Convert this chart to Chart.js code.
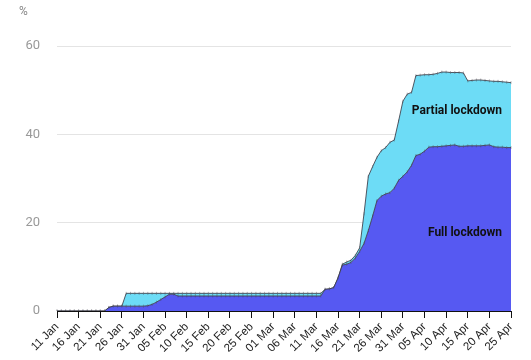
<!DOCTYPE html>
<html>
<head>
<meta charset="utf-8">
<script src="https://cdn.jsdelivr.net/npm/chart.js@4/dist/chart.umd.min.js"></script>
<style>
html,body{margin:0;padding:0;background:#fff;}
#wrap{width:531px;height:360px;position:relative;}
</style>
</head>
<body>
<div id="wrap"><canvas id="c"></canvas></div>
<script>
// Categories: daily, 11 Jan – 25 Apr 2020
const categories = [
 "11 Jan","12 Jan","13 Jan","14 Jan","15 Jan","16 Jan","17 Jan","18 Jan","19 Jan","20 Jan",
 "21 Jan","22 Jan","23 Jan","24 Jan","25 Jan","26 Jan","27 Jan","28 Jan","29 Jan","30 Jan",
 "31 Jan","01 Feb","02 Feb","03 Feb","04 Feb","05 Feb","06 Feb","07 Feb","08 Feb","09 Feb",
 "10 Feb","11 Feb","12 Feb","13 Feb","14 Feb","15 Feb","16 Feb","17 Feb","18 Feb","19 Feb",
 "20 Feb","21 Feb","22 Feb","23 Feb","24 Feb","25 Feb","26 Feb","27 Feb","28 Feb","29 Feb",
 "01 Mar","02 Mar","03 Mar","04 Mar","05 Mar","06 Mar","07 Mar","08 Mar","09 Mar","10 Mar",
 "11 Mar","12 Mar","13 Mar","14 Mar","15 Mar","16 Mar","17 Mar","18 Mar","19 Mar","20 Mar",
 "21 Mar","22 Mar","23 Mar","24 Mar","25 Mar","26 Mar","27 Mar","28 Mar","29 Mar","30 Mar",
 "31 Mar","01 Apr","02 Apr","03 Apr","04 Apr","05 Apr","06 Apr","07 Apr","08 Apr","09 Apr",
 "10 Apr","11 Apr","12 Apr","13 Apr","14 Apr","15 Apr","16 Apr","17 Apr","18 Apr","19 Apr",
 "20 Apr","21 Apr","22 Apr","23 Apr","24 Apr","25 Apr"
];

// Tick labels shown on the x axis (every 5 days)
const tickLabels = ["11 Jan","16 Jan","21 Jan","26 Jan","31 Jan","05 Feb","10 Feb","15 Feb","20 Feb","25 Feb",
 "01 Mar","06 Mar","11 Mar","16 Mar","21 Mar","26 Mar","31 Mar","05 Apr","10 Apr","15 Apr","20 Apr","25 Apr"];

// Full lockdown (%), daily
const fullLockdown = [
 0,0,0,0,0,0,0,0,0,0,
 0,0,0.8,1.1,1.1,1.1,1.1,1.1,1.1,1.1,
 1.1,1.2,1.5,2.0,2.6,3.2,3.8,3.8,3.4,3.4,
 3.4,3.4,3.4,3.4,3.4,3.4,3.4,3.4,3.4,3.4,
 3.4,3.4,3.4,3.4,3.4,3.4,3.4,3.4,3.4,3.4,
 3.4,3.4,3.4,3.4,3.4,3.4,3.4,3.4,3.4,3.4,
 3.4,3.4,4.9,5.0,5.3,7.5,10.4,10.6,11.0,12.0,
 13.5,15.3,18.2,21.5,25.0,26.0,26.5,26.8,27.8,29.6,
 30.5,31.5,33.0,35.2,35.5,36.2,37.1,37.2,37.2,37.3,
 37.4,37.5,37.6,37.3,37.3,37.4,37.4,37.4,37.4,37.5,
 37.6,37.2,37.1,37.1,37.0,37.0
];

// Partial lockdown (%), daily, stacked on top of full lockdown
const partialLockdown = [
 0,0,0,0,0,0,0,0,0,0,
 0,0,0,0,0,0,2.9,2.9,2.9,2.9,
 2.9,2.8,2.5,2.0,1.4,0.8,0.2,0.2,0.6,0.6,
 0.6,0.6,0.6,0.6,0.6,0.6,0.6,0.6,0.6,0.6,
 0.6,0.6,0.6,0.6,0.6,0.6,0.6,0.6,0.6,0.6,
 0.6,0.6,0.6,0.6,0.6,0.6,0.6,0.6,0.6,0.6,
 0.6,0.6,0,0,0,0,0.2,0.5,0.5,0.6,
 0.8,6.7,12.3,11.2,9.8,10.3,10.5,11.4,10.9,13.4,
 17.0,17.6,16.5,18.1,17.9,17.3,16.4,16.4,16.6,16.8,
 16.7,16.5,16.4,16.7,16.6,14.7,14.8,14.9,14.9,14.7,
 14.5,14.8,14.9,14.8,14.8,14.7
];

const yTicks = [0,20,40,60];
const seriesNames = ["Full lockdown","Partial lockdown"];

const annotations = {
  id: 'annotations',
  afterDatasetsDraw(chart) {
    const {ctx, chartArea, scales} = chart;
    ctx.save();
    ctx.font = 'bold 12px Roboto';
    ctx.fillStyle = '#111';
    ctx.textAlign = 'right';
    ctx.textBaseline = 'middle';
    ctx.fillText(seriesNames[1], chartArea.right - 9, scales.y.getPixelForValue(45.3));
    ctx.fillText(seriesNames[0], chartArea.right - 9, scales.y.getPixelForValue(17.7));
    ctx.font = '12px Roboto';
    ctx.fillStyle = '#888';
    ctx.textAlign = 'left';
    ctx.fillText('%', chartArea.left - 38, 12);
    ctx.restore();
  }
};

new Chart(document.getElementById('c'), {
  type: 'line',
  data: {
    labels: categories,
    datasets: [
      {
        label: seriesNames[0],
        data: fullLockdown,
        fill: 'origin',
        backgroundColor: '#5659f2',
        borderColor: 'rgba(60,60,70,0.85)',
        borderWidth: 1,
        pointStyle: 'line',
        pointRotation: 90,
        pointRadius: 1.5,
        pointBorderWidth: 0.8,
        pointBorderColor: 'rgba(70,70,80,0.5)',
        tension: 0
      },
      {
        label: seriesNames[1],
        data: partialLockdown,
        fill: '-1',
        backgroundColor: '#6ddcf6',
        borderColor: 'rgba(60,60,70,0.85)',
        borderWidth: 1,
        pointStyle: 'line',
        pointRotation: 90,
        pointRadius: 1.5,
        pointBorderWidth: 0.8,
        pointBorderColor: 'rgba(70,70,80,0.5)',
        tension: 0
      }
    ]
  },
  options: {
    responsive: true,
    maintainAspectRatio: false,
    animation: false,
    layout: { padding: { top: 46, right: 20, left: 0, bottom: 0 } },
    plugins: { legend: { display: false }, tooltip: { enabled: false } },
    scales: {
      x: {
        type: 'category',
        offset: false,
        afterFit(s) { s.height = 49; },
        grid: { display: true, drawOnChartArea: false, drawTicks: true, tickLength: 7, color: '#111', lineWidth: 1 },
        border: { display: true, color: '#111', width: 1 },
        ticks: {
          autoSkip: false,
          minRotation: 45,
          maxRotation: 45,
          padding: 2,
          color: '#222',
          font: { family: 'Liberation Sans', size: 11.5 },
          callback(value, index) {
            return index % 5 === 0 ? tickLabels[index / 5] : null;
          }
        }
      },
      y: {
        stacked: true,
        min: yTicks[0],
        max: yTicks[yTicks.length - 1],
        afterFit(s) { s.width = 57; },
        afterBuildTicks(s) { s.ticks = yTicks.map(v => ({ value: v })); },
        grid: { color: '#e4e4e4', drawTicks: false, lineWidth: 1 },
        border: { display: false },
        ticks: {
          padding: 17,
          color: '#999',
          font: { family: 'Roboto', size: 13 }
        }
      }
    }
  },
  plugins: [annotations]
});
</script>
</body>
</html>
